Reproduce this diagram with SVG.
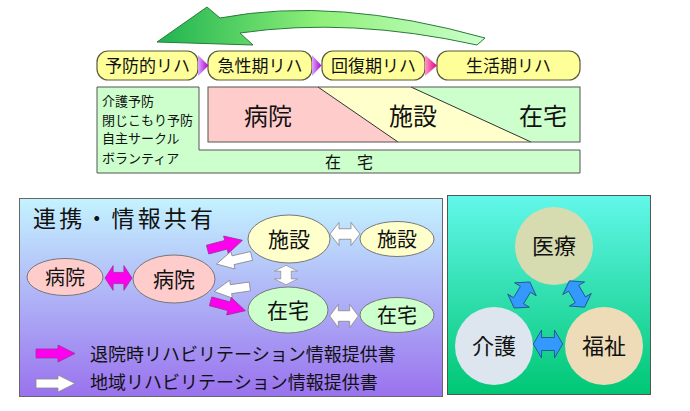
<svg xmlns="http://www.w3.org/2000/svg" width="690" height="411" viewBox="0 0 690 411">
<defs>
<style>
text{font-family:"Noto Sans CJK JP","Liberation Sans",sans-serif;fill:#111;}
.pill{fill:#ffff99;stroke:#5a5a3c;stroke-width:1.2;}
.pt{font-size:17px;text-anchor:middle;}
.big{font-size:24px;text-anchor:middle;}
.sm{font-size:13px;}
.box{stroke:#555;stroke-width:1;}
.ell{stroke:#777;stroke-width:1;}
.et{font-size:21px;text-anchor:middle;}
.mag{fill:#ff00ee;stroke:#993399;stroke-width:0.8;}
.wht{fill:#ffffff;stroke:#888;stroke-width:0.8;}
.blu{fill:#3399ff;stroke:#224477;stroke-width:0.8;}
.ct{font-size:22px;text-anchor:middle;}
.lg{font-size:18px;}
</style>
<linearGradient id="gArrow" x1="0" y1="0" x2="1" y2="0">
<stop offset="0" stop-color="#1fb34f"/>
<stop offset="0.5" stop-color="#8ff07a"/>
<stop offset="1" stop-color="#ccffcc"/>
</linearGradient>
<linearGradient id="gTri" x1="0" y1="0" x2="1" y2="0">
<stop offset="0" stop-color="#d9a8ff"/>
<stop offset="1" stop-color="#b000c8"/>
</linearGradient>
<linearGradient id="gTri3" x1="0" y1="0" x2="1" y2="0">
<stop offset="0" stop-color="#ff99cc"/>
<stop offset="1" stop-color="#e0007a"/>
</linearGradient>
<linearGradient id="gLeft" x1="0" y1="0" x2="0" y2="1">
<stop offset="0" stop-color="#c4f3ff"/>
<stop offset="1" stop-color="#9a72ee"/>
</linearGradient>
<linearGradient id="gRight" x1="0" y1="0" x2="0" y2="1">
<stop offset="0" stop-color="#62f7ea"/>
<stop offset="1" stop-color="#00c774"/>
</linearGradient>
<path id="sa" d="M-18,-4.5 H1 V-9 L18,0 L1,9 V4.5 H-18 Z"/>
<path id="da" d="M-15,0 L-6,-11 V-5 H6 V-11 L15,0 L6,11 V5 H-6 V11 Z"/>
<path id="db" d="M-16,0 L-7,-14 V-6.5 H7 V-14 L16,0 L7,14 V6.5 H-7 V14 Z"/>
</defs>

<g id="cycle-arrow">
<path d="M157,42 L207,7 L220,18 Q335,-4 485,38 L477,45 Q350,17 240,33 L253,45 Z" fill="url(#gArrow)" stroke="#2a7a3a" stroke-width="1"/>
</g>

<g id="phase-prevent">
<rect class="pill" x="97" y="51" width="101" height="29" rx="11"/>
<text class="pt" x="147.5" y="72">予防的リハ</text>
</g>
<g id="phase-acute">
<rect class="pill" x="208" y="51" width="104" height="29" rx="11"/>
<text class="pt" x="260" y="72">急性期リハ</text>
</g>
<g id="phase-recovery">
<rect class="pill" x="322" y="51" width="103" height="29" rx="11"/>
<text class="pt" x="373.5" y="72">回復期リハ</text>
</g>
<g id="phase-life">
<rect class="pill" x="437" y="51" width="143" height="29" rx="11"/>
<text class="pt" x="508.5" y="72">生活期リハ</text>
</g>
<g id="phase-connectors">
<path d="M198,55 L208.5,65.5 L198,76 Z" fill="url(#gTri)"/>
<path d="M312,55 L321.5,65.5 L312,76 Z" fill="url(#gTri)"/>
<path d="M425,55 L437,65.5 L425,76 Z" fill="url(#gTri3)"/>
</g>

<g id="home-base">
<path class="box" d="M97,87 H199 V150 H580 V173 H97 Z" fill="#ccffcc"/>
<text class="sm" x="102" y="106">介護予防</text>
<text class="sm" x="102" y="125">閉じこもり予防</text>
<text class="sm" x="102" y="143">自主サークル</text>
<text class="sm" x="102" y="163">ボランティア</text>
<text x="349" y="168" style="font-size:16px;text-anchor:middle">在　宅</text>
</g>

<g id="settings-band">
<rect x="208" y="87" width="372" height="55" fill="#ccffcc"/>
<path d="M208,87 H318 L398,142 H208 Z" fill="#ffcccc"/>
<path d="M318,87 H411 L531,142 H398 Z" fill="#ffffcc"/>
<path d="M318,87 L398,142 M411,87 L531,142" stroke="#333" stroke-width="1" fill="none"/>
<rect class="box" x="208" y="87" width="372" height="55" fill="none"/>
<text class="big" x="268" y="125">病院</text>
<text class="big" x="413" y="125">施設</text>
<text class="big" x="543" y="125">在宅</text>
</g>

<g id="collab-panel">
<rect x="19.5" y="198.5" width="423" height="198" fill="url(#gLeft)" stroke="#666" stroke-width="1"/>
<text x="33" y="227" style="font-size:23px" textLength="180" lengthAdjust="spacing">連携・情報共有</text>
</g>

<g id="triad-panel">
<rect x="447.5" y="195.5" width="203" height="199" fill="url(#gRight)" stroke="#555" stroke-width="1"/>
</g>

<g id="node-hospital-a">
<ellipse class="ell" cx="65" cy="277" rx="38" ry="18.5" fill="#ffcccc"/>
<text class="et" x="65" y="285" style="font-size:20px">病院</text>
</g>
<g id="node-hospital-b">
<ellipse class="ell" cx="174" cy="279" rx="41" ry="24" fill="#ffcccc"/>
<text class="et" x="174" y="287">病院</text>
</g>
<g id="node-facility-b">
<ellipse class="ell" cx="289" cy="239" rx="41" ry="24" fill="#ffffcc"/>
<text class="et" x="289" y="247">施設</text>
</g>
<g id="node-home-b">
<ellipse class="ell" cx="288" cy="310" rx="40" ry="23" fill="#ccffcc"/>
<text class="et" x="288" y="318">在宅</text>
</g>
<g id="node-facility-c">
<ellipse class="ell" cx="397" cy="239" rx="37" ry="17.5" fill="#ffffcc"/>
<text class="et" x="397" y="247" style="font-size:20px">施設</text>
</g>
<g id="node-home-c">
<ellipse class="ell" cx="397" cy="315" rx="37" ry="17.5" fill="#ccffcc"/>
<text class="et" x="397" y="323" style="font-size:20px">在宅</text>
</g>

<g id="node-medical">
<circle cx="554" cy="246" r="39" fill="#d7dbb0"/>
<text class="ct" x="554" y="254">医療</text>
</g>
<g id="node-care">
<circle cx="494" cy="346" r="39" fill="#dde6ef"/>
<text class="ct" x="494" y="354">介護</text>
</g>
<g id="node-welfare">
<circle cx="604" cy="346" r="39" fill="#eedcb8"/>
<text class="ct" x="604" y="354">福祉</text>
</g>

<g id="connectors">
<use href="#da" class="mag" transform="translate(118.5,278) scale(0.9,1.12)"/>
<use href="#sa" class="mag" transform="translate(225,245) rotate(-15)"/>
<use href="#sa" class="wht" transform="translate(234,260) rotate(167)"/>
<use href="#sa" class="wht" transform="translate(232,289) rotate(172)"/>
<use href="#sa" class="mag" transform="translate(228,306) rotate(15)"/>
<use href="#da" class="wht" transform="translate(286,275) rotate(90) scale(0.65,1.05)"/>
<use href="#da" class="wht" transform="translate(345,234) scale(1,1.05)"/>
<use href="#da" class="wht" transform="translate(344,316) scale(0.95,1.05)"/>
<use href="#db" class="blu" transform="translate(522,295) rotate(-59) scale(0.95,0.9)"/>
<use href="#db" class="blu" transform="translate(577,294) rotate(60) scale(0.95,0.9)"/>
<use href="#db" class="blu" transform="translate(548,344) scale(0.92,1)"/>
</g>

<g id="legend">
<path class="mag" d="M36,349 H58 V345 L75,353.5 L58,362 V358 H36 Z"/>
<text class="lg" x="90" y="361">退院時リハビリテーション情報提供書</text>
<path class="wht" d="M36,379 H58 V375 L75,383.5 L58,392 V388 H36 Z"/>
<text class="lg" x="90" y="389">地域リハビリテーション情報提供書</text>
</g>
</svg>
